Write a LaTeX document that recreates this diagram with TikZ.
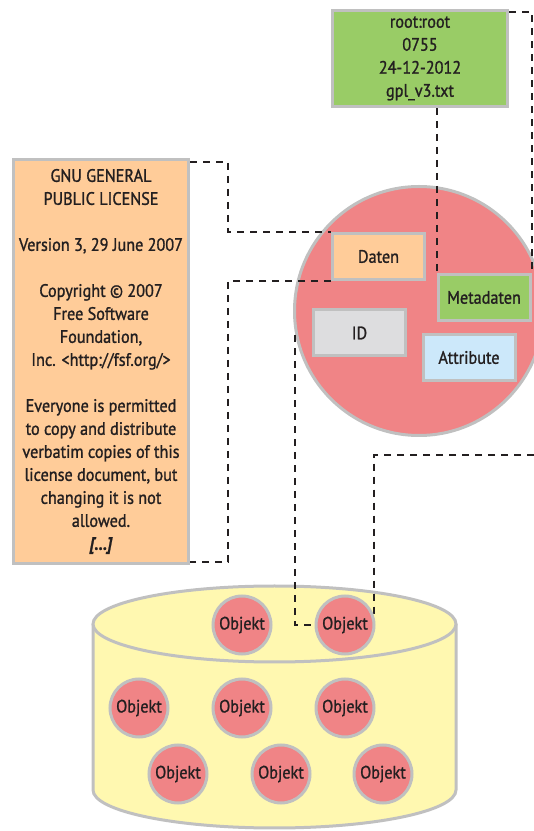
\documentclass[tikz,border=0pt]{standalone}
\usepackage{fontspec}
\setmainfont{PT Sans}[FakeStretch=0.9,FakeBold=1.2]
\usepackage{tikz}
\usetikzlibrary{calc,positioning,backgrounds}

\definecolor{gruen}{RGB}{153,204,102}
\definecolor{orange}{RGB}{255,204,153}
\definecolor{rosa}{RGB}{240,132,134}
\definecolor{hellgrau}{RGB}{221,221,223}
\definecolor{hellblau}{RGB}{204,232,250}
\definecolor{gelb}{RGB}{255,248,176}
\definecolor{rand}{RGB}{192,192,192}
\definecolor{schrift}{RGB}{35,31,32}

\begin{document}
\begin{tikzpicture}[x=1pt,y=1pt,inner sep=0pt,
  text=schrift,font=\fontsize{18}{23}\selectfont,
  box/.style={draw=rand,line width=3pt,align=center},
  feld/.style={box,minimum width=92pt,minimum height=46pt},
  objekt/.style={circle,draw=rand,line width=3pt,fill=rosa,minimum size=58pt},
  link/.style={draw=schrift,line width=2pt,dash pattern=on 7pt off 6pt}]
\useasboundingbox (0,0) rectangle (534,831);

\coordinate (rim) at (534,376);

\node[box,fill=orange,minimum width=175pt,minimum height=404pt] (lic) at (101,469.5)
  {GNU GENERAL\\PUBLIC LICENSE\\[23pt]Version 3, 29 June 2007\\[23pt]Copyright © 2007\\Free Software\\Foundation,\\Inc. <http://fsf.org/>\\[23pt]Everyone is permitted\\to copy and distribute\\verbatim copies of this\\license document, but\\changing it is not\\allowed.\\\textbf{\textit{[...]}}};
\node[box,fill=gruen,minimum width=175pt,minimum height=96pt] (meta) at (420,772.5)
  {root:root\\0755\\24-12-2012\\gpl\_v3.txt};

\node[feld,fill=orange] (daten) at (378.5,574.5) {Daten};
\node[feld,fill=gruen] (metadaten) at (484,533.5) {Metadaten};
\node[feld,fill=hellgrau] (id) at (359.5,498) {ID};
\node[feld,fill=hellblau] (attr) at (469,473.5) {Attribute};

\foreach \n/\x/\y in {1/242/206,2/345/206,3/139/123,4/242/123,5/345/123,6/178/57,7/281/57,8/383/57}
  \node[objekt] (o\n) at (\x,\y) {Objekt};

\begin{scope}[on background layer]
\draw[draw=rand,line width=3pt,fill=gelb] (93,207) -- (93,41)
  arc[start angle=180,end angle=360,x radius=181.5pt,y radius=38pt] -- (456,207);
\draw[draw=rand,line width=3pt,fill=gelb] (274.5,207) ellipse[x radius=181.5pt,y radius=38pt];
\node[circle,draw=rand,line width=3pt,fill=rosa,minimum size=249pt] (obj) at (419,520) {};

\draw[link] ([yshift=-4pt]lic.north east) -- ++(38,0) |- (daten.north west);
\draw[link] (daten.south west) -- ++(-103,0) |- ([yshift=3pt]lic.south east);
\draw[link] (meta.south -| metadaten.north west) -- (metadaten.north west);
\draw[link] ([yshift=-3pt]meta.north east) -| (metadaten.north east);
\draw[link] (obj.191) |- (o2.west);
\draw[link] (rim) -| (o2.20);
\end{scope}
\end{tikzpicture}
\end{document}
